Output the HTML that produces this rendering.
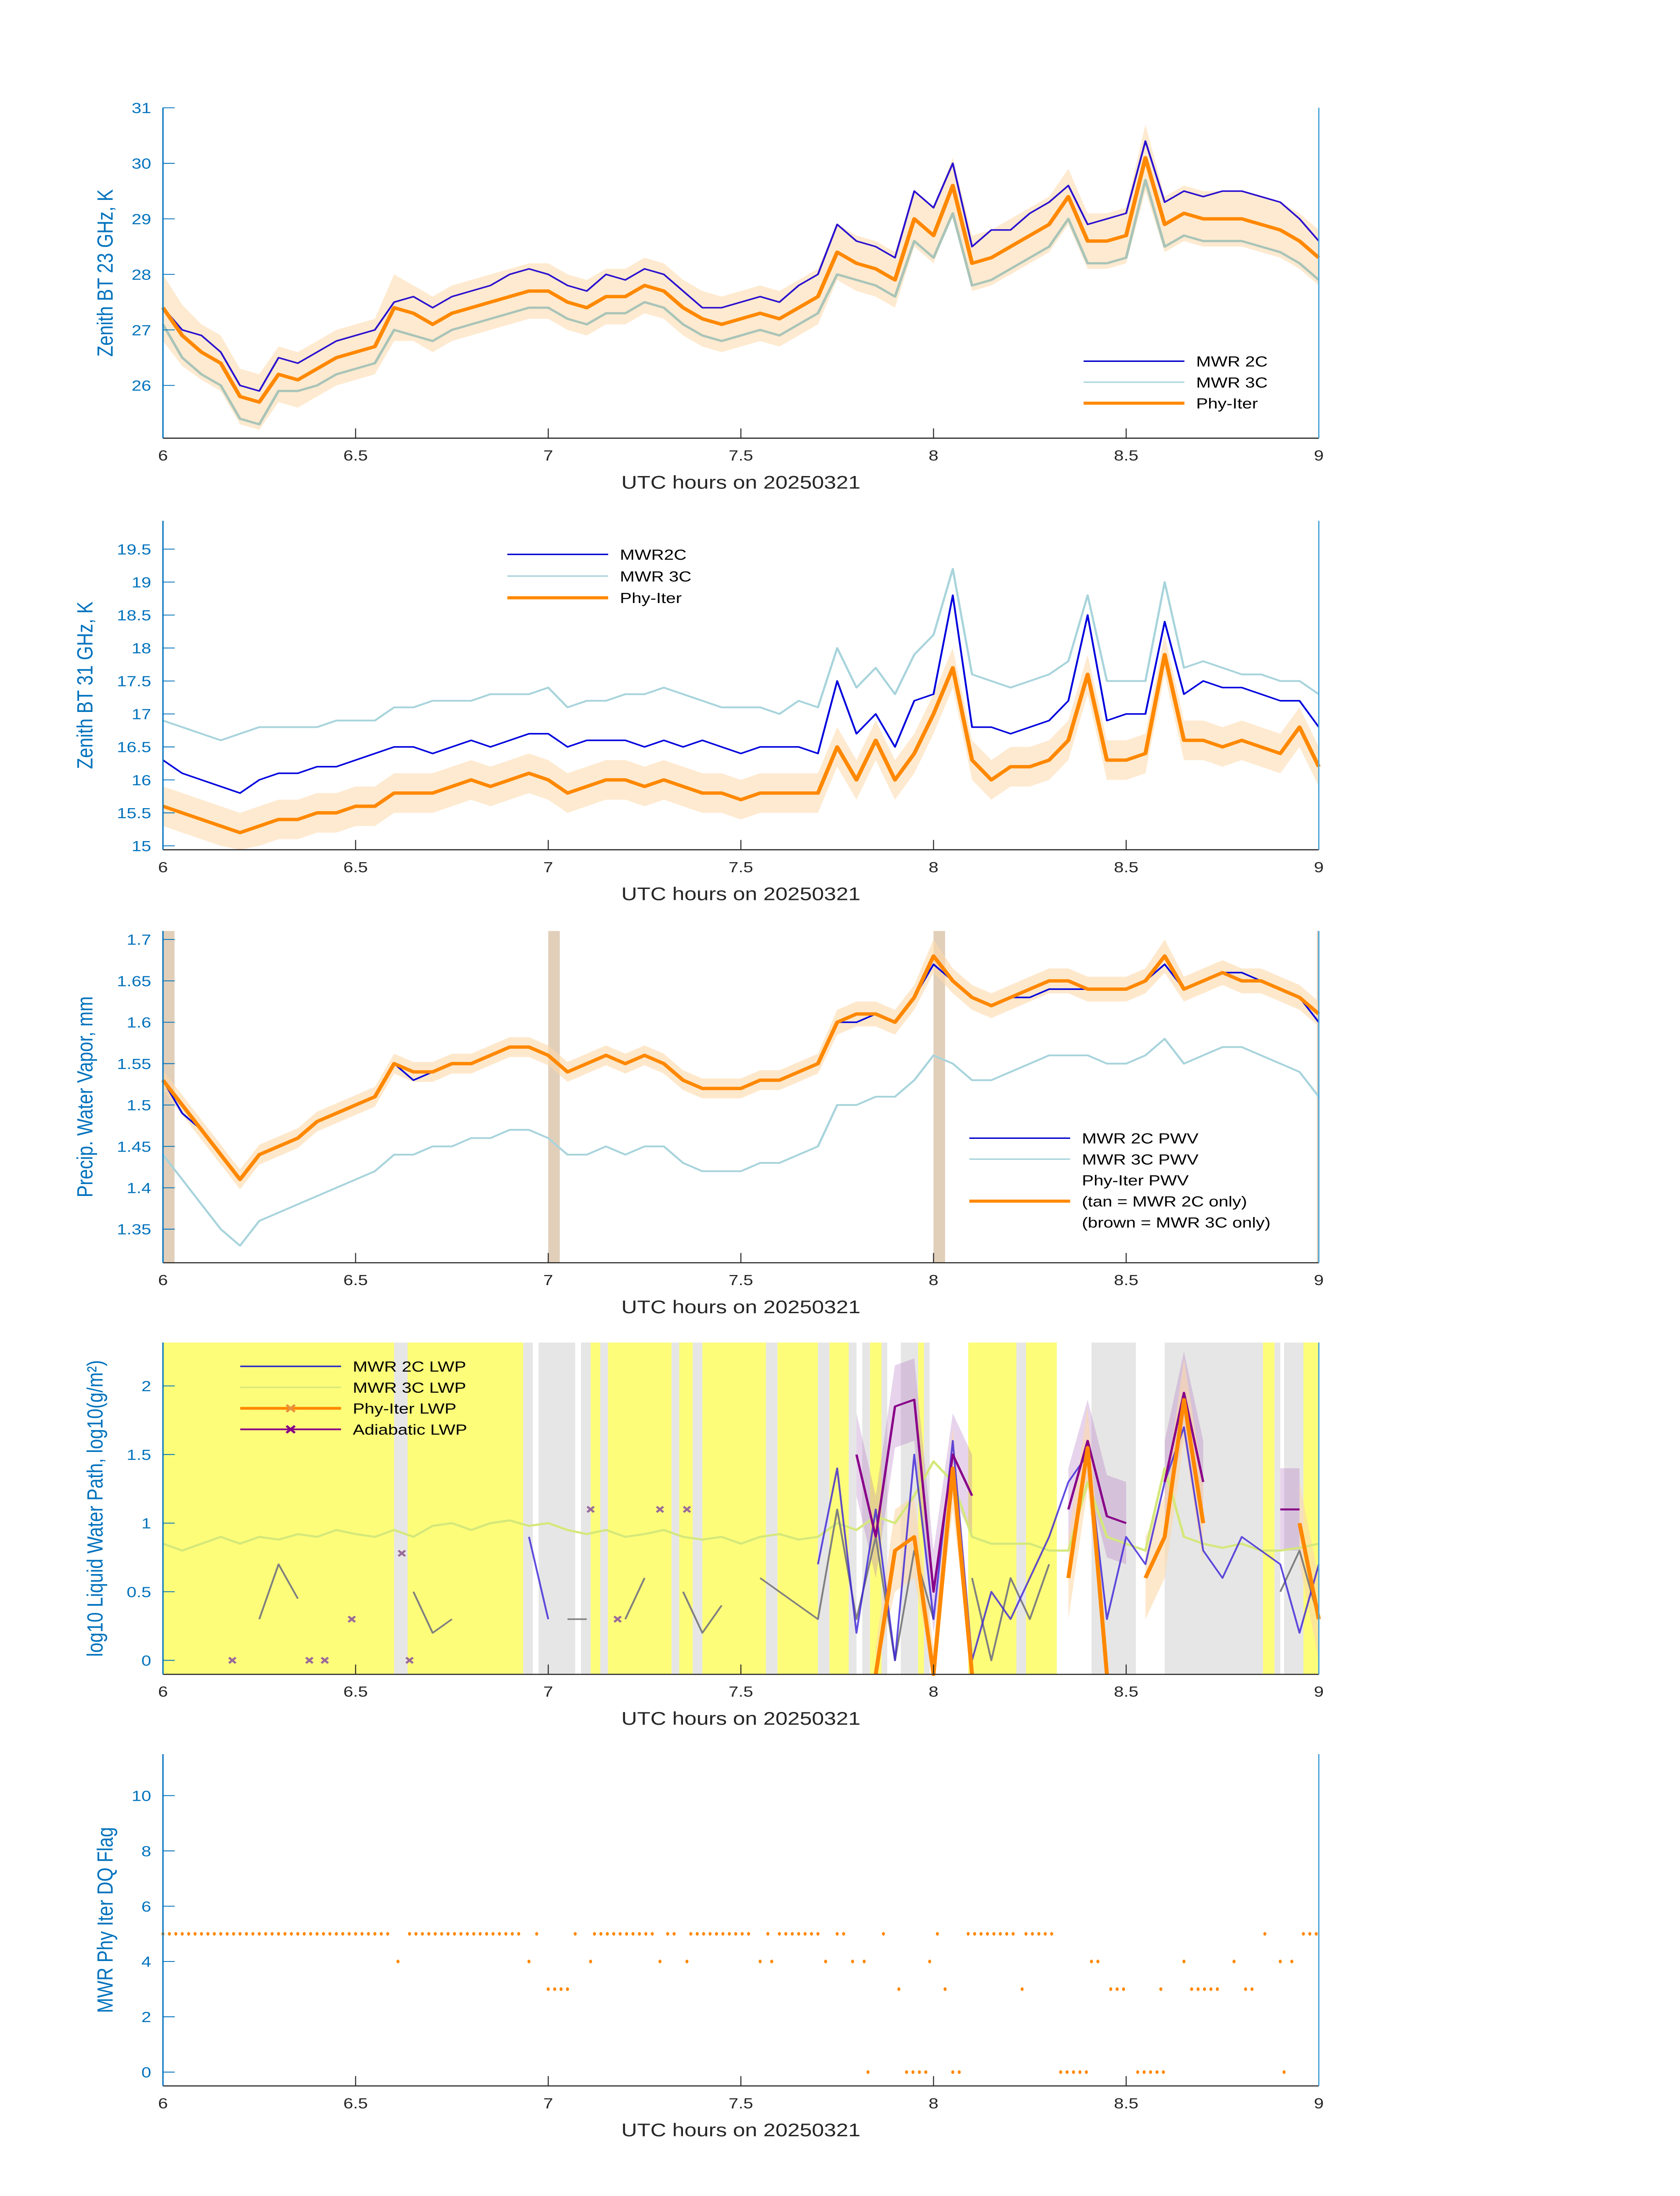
<!DOCTYPE html>
<html><head><meta charset="utf-8"><style>
html,body{margin:0;padding:0;background:#fff;width:100%;height:100%;overflow:hidden;}
svg{display:block;position:absolute;left:0;top:0;width:100vw;height:100vh;font-family:"Liberation Sans","DejaVu Sans",sans-serif;}
</style></head><body>
<svg id="fig" width="100%" height="100%" viewBox="0 0 1000 1568.63" preserveAspectRatio="none" xmlns="http://www.w3.org/2000/svg">
<rect width="1000" height="1568.63" fill="#fff"/>
</svg>
<script>
// ---------- data ----------
const t05 = [6.0,6.05,6.1,6.15,6.2,6.25,6.3,6.35,6.4,6.45,6.5,6.55,6.6,6.65,6.7,6.75,6.8,6.85,6.9,6.95,7.0,7.05,7.1,7.15,7.2,7.25,7.3,7.35,7.4,7.45,7.5,7.55,7.6,7.65,7.7,7.75,7.8,7.85,7.9,7.95,8.0,8.05,8.1,8.15,8.2,8.25,8.3,8.35,8.4,8.45,8.5,8.55,8.6,8.65,8.7,8.75,8.8,8.85,8.9,8.95,9.0];
const bt23_2c = [27.4,27.0,26.9,26.6,26.0,25.9,26.5,26.4,26.6,26.8,26.9,27.0,27.5,27.6,27.4,27.6,27.7,27.8,28.0,28.1,28.0,27.8,27.7,28.0,27.9,28.1,28.0,27.7,27.4,27.4,27.5,27.6,27.5,27.8,28.0,28.9,28.6,28.5,28.3,29.5,29.2,30.0,28.5,28.8,28.8,29.1,29.3,29.6,28.9,29.0,29.1,30.4,29.3,29.5,29.4,29.5,29.5,29.4,29.3,29.0,28.6];
const bt23_3c = [27.1,26.5,26.2,26.0,25.4,25.3,25.9,25.9,26.0,26.2,26.3,26.4,27.0,26.9,26.8,27.0,27.1,27.2,27.3,27.4,27.4,27.2,27.1,27.3,27.3,27.5,27.4,27.1,26.9,26.8,26.9,27.0,26.9,27.1,27.3,28.0,27.9,27.8,27.6,28.6,28.3,29.1,27.8,27.9,28.1,28.3,28.5,29.0,28.2,28.2,28.3,29.7,28.5,28.7,28.6,28.6,28.6,28.5,28.4,28.2,27.9];
const bt23_phy = [27.4,26.9,26.6,26.4,25.8,25.7,26.2,26.1,26.3,26.5,26.6,26.7,27.4,27.3,27.1,27.3,27.4,27.5,27.6,27.7,27.7,27.5,27.4,27.6,27.6,27.8,27.7,27.4,27.2,27.1,27.2,27.3,27.2,27.4,27.6,28.4,28.2,28.1,27.9,29.0,28.7,29.6,28.2,28.3,28.5,28.7,28.9,29.4,28.6,28.6,28.7,30.1,28.9,29.1,29.0,29.0,29.0,28.9,28.8,28.6,28.3];
const bt23_unc = [0.6,0.55,0.5,0.5,0.5,0.5,0.5,0.5,0.5,0.5,0.5,0.5,0.6,0.5,0.5,0.5,0.5,0.5,0.5,0.5,0.5,0.5,0.5,0.5,0.5,0.5,0.5,0.5,0.5,0.5,0.5,0.5,0.5,0.5,0.5,0.5,0.5,0.5,0.5,0.5,0.5,0.5,0.5,0.5,0.5,0.5,0.5,0.5,0.5,0.5,0.5,0.6,0.5,0.5,0.5,0.5,0.5,0.5,0.5,0.5,0.5];
const bt31_2c = [16.3,16.1,16.0,15.9,15.8,16.0,16.1,16.1,16.2,16.2,16.3,16.4,16.5,16.5,16.4,16.5,16.6,16.5,16.6,16.7,16.7,16.5,16.6,16.6,16.6,16.5,16.6,16.5,16.6,16.5,16.4,16.5,16.5,16.5,16.4,17.5,16.7,17.0,16.5,17.2,17.3,18.8,16.8,16.8,16.7,16.8,16.9,17.2,18.5,16.9,17.0,17.0,18.4,17.3,17.5,17.4,17.4,17.3,17.2,17.2,16.8];
const bt31_3c = [16.9,16.8,16.7,16.6,16.7,16.8,16.8,16.8,16.8,16.9,16.9,16.9,17.1,17.1,17.2,17.2,17.2,17.3,17.3,17.3,17.4,17.1,17.2,17.2,17.3,17.3,17.4,17.3,17.2,17.1,17.1,17.1,17.0,17.2,17.1,18.0,17.4,17.7,17.3,17.9,18.2,19.2,17.6,17.5,17.4,17.5,17.6,17.8,18.8,17.5,17.5,17.5,19.0,17.7,17.8,17.7,17.6,17.6,17.5,17.5,17.3];
const bt31_phy = [15.6,15.5,15.4,15.3,15.2,15.3,15.4,15.4,15.5,15.5,15.6,15.6,15.8,15.8,15.8,15.9,16.0,15.9,16.0,16.1,16.0,15.8,15.9,16.0,16.0,15.9,16.0,15.9,15.8,15.8,15.7,15.8,15.8,15.8,15.8,16.5,16.0,16.6,16.0,16.4,17.0,17.7,16.3,16.0,16.2,16.2,16.3,16.6,17.6,16.3,16.3,16.4,17.9,16.6,16.6,16.5,16.6,16.5,16.4,16.8,16.2];
const bt31_unc = [0.3,0.3,0.3,0.3,0.3,0.3,0.3,0.3,0.3,0.3,0.3,0.3,0.3,0.3,0.3,0.3,0.3,0.3,0.3,0.3,0.3,0.3,0.3,0.3,0.3,0.3,0.3,0.3,0.3,0.3,0.3,0.3,0.3,0.3,0.3,0.3,0.3,0.3,0.3,0.3,0.3,0.3,0.3,0.3,0.3,0.3,0.3,0.3,0.3,0.3,0.3,0.3,0.3,0.3,0.3,0.3,0.3,0.3,0.3,0.3,0.3];
const pwv_2c = [1.53,1.49,1.47,1.44,1.41,1.44,1.45,1.46,1.48,1.49,1.50,1.51,1.55,1.53,1.54,1.55,1.55,1.56,1.57,1.57,1.56,1.54,1.55,1.56,1.55,1.56,1.55,1.53,1.52,1.52,1.52,1.53,1.53,1.54,1.55,1.60,1.60,1.61,1.60,1.63,1.67,1.65,1.63,1.62,1.63,1.63,1.64,1.64,1.64,1.64,1.64,1.65,1.67,1.64,1.65,1.66,1.66,1.65,1.64,1.63,1.60];
const pwv_3c = [1.44,1.41,1.38,1.35,1.33,1.36,1.37,1.38,1.39,1.40,1.41,1.42,1.44,1.44,1.45,1.45,1.46,1.46,1.47,1.47,1.46,1.44,1.44,1.45,1.44,1.45,1.45,1.43,1.42,1.42,1.42,1.43,1.43,1.44,1.45,1.50,1.50,1.51,1.51,1.53,1.56,1.55,1.53,1.53,1.54,1.55,1.56,1.56,1.56,1.55,1.55,1.56,1.58,1.55,1.56,1.57,1.57,1.56,1.55,1.54,1.51];
const pwv_phy = [1.53,1.50,1.47,1.44,1.41,1.44,1.45,1.46,1.48,1.49,1.50,1.51,1.55,1.54,1.54,1.55,1.55,1.56,1.57,1.57,1.56,1.54,1.55,1.56,1.55,1.56,1.55,1.53,1.52,1.52,1.52,1.53,1.53,1.54,1.55,1.60,1.61,1.61,1.60,1.63,1.68,1.65,1.63,1.62,1.63,1.64,1.65,1.65,1.64,1.64,1.64,1.65,1.68,1.64,1.65,1.66,1.65,1.65,1.64,1.63,1.61];
const pwv_unc = [0.012,0.012,0.012,0.012,0.012,0.012,0.012,0.012,0.012,0.012,0.012,0.012,0.012,0.012,0.012,0.012,0.012,0.012,0.012,0.012,0.012,0.012,0.012,0.012,0.012,0.012,0.012,0.012,0.012,0.012,0.012,0.012,0.012,0.012,0.012,0.015,0.015,0.015,0.015,0.015,0.02,0.015,0.015,0.015,0.015,0.015,0.015,0.015,0.015,0.015,0.015,0.015,0.02,0.015,0.015,0.015,0.015,0.015,0.015,0.015,0.015];
const pwv_brownSpans = [[6.0,6.03],[7.0,7.03],[8.0,8.03],[8.995,9.0]];
const lwp_yellow = [[6.0,6.6],[6.635,6.935],[7.11,7.135],[7.155,7.32],[7.34,7.375],[7.4,7.565],[7.595,7.7],[7.73,7.78],[7.835,7.865],[7.96,7.975],[8.09,8.215],[8.24,8.32],[8.855,8.885],[8.96,9.0]];
const lwp_gray = [[6.6,6.635],[6.935,6.96],[6.975,7.07],[7.085,7.11],[7.135,7.155],[7.32,7.34],[7.375,7.4],[7.565,7.595],[7.7,7.73],[7.78,7.8],[7.815,7.835],[7.865,7.88],[7.915,7.96],[7.975,7.99],[8.215,8.24],[8.41,8.525],[8.6,8.855],[8.885,8.9],[8.91,8.96]];
const lwp_3c = [0.85,0.8,0.85,0.9,0.85,0.9,0.88,0.92,0.9,0.95,0.92,0.9,0.95,0.9,0.98,1.0,0.95,1.0,1.02,0.98,1.0,0.95,0.92,0.95,0.9,0.92,0.95,0.9,0.88,0.9,0.85,0.9,0.92,0.88,0.9,1.0,0.95,1.05,1.0,1.2,1.45,1.3,0.9,0.85,0.85,0.85,0.8,0.8,1.3,0.9,0.85,0.8,1.4,0.9,0.85,0.82,0.85,0.8,0.8,0.82,0.85];
const lwp_old = [null,null,null,null,null,0.3,0.7,0.45,null,0.6,null,0.3,null,0.5,0.2,0.3,null,0.3,null,0.6,null,0.3,0.3,null,0.3,0.6,null,0.5,0.2,0.4,null,0.6,0.5,0.4,0.3,1.1,0.3,0.9,0.0,0.8,0.3,null,0.6,0.0,0.6,0.3,0.7,null,null,0.5,null,null,null,null,null,null,null,null,0.5,0.8,0.3];
const lwp_2c = [null,null,null,null,null,null,null,null,null,null,null,null,null,null,null,null,null,null,null,0.9,0.3,null,null,null,null,null,null,null,null,null,null,null,null,null,0.7,1.4,0.2,1.1,0.0,1.5,0.3,1.6,0.0,0.5,0.3,0.6,0.9,1.3,1.5,0.3,0.9,0.7,1.3,1.7,0.8,0.6,0.9,0.8,0.7,0.2,0.7];
const lwp_phy = [null,null,null,null,null,null,null,null,null,null,null,null,null,null,null,null,null,null,null,-0.2,null,null,null,null,null,null,null,null,null,null,null,null,null,null,null,null,null,-0.2,0.8,0.9,-0.2,1.4,-0.2,null,null,null,null,0.6,1.55,-0.2,null,0.6,0.9,1.9,1.0,null,null,null,null,1.0,0.3];
const lwp_adb = [null,null,null,null,null,null,null,null,null,null,null,null,null,null,null,null,null,null,null,null,null,null,null,null,null,null,null,null,null,null,null,null,null,null,null,null,1.5,0.9,1.85,1.9,0.5,1.5,1.2,null,null,null,null,1.1,1.6,1.05,1.0,null,1.3,1.95,1.3,null,null,null,1.1,1.1,null];
const lwp_adbUnc = [0.3,0.3,0.3,0.3,0.3,0.3,0.3,0.3,0.3,0.3,0.3,0.3,0.3,0.3,0.3,0.3,0.3,0.3,0.3,0.3,0.3,0.3,0.3,0.3,0.3,0.3,0.3,0.3,0.3,0.3,0.3,0.3,0.3,0.3,0.3,0.3,0.3,0.3,0.3,0.3,0.3,0.3,0.3,0.3,0.3,0.3,0.3,0.3,0.3,0.3,0.3,0.3,0.3,0.3,0.3,0.3,0.3,0.3,0.3,0.3,0.3];
const lwp_markT = [6.18,6.38,6.42,6.49,6.62,6.64,7.11,7.18,7.29,7.36];
const lwp_markV = [0,0,0,0.3,0.78,0,1.1,0.3,1.1,1.1];
const dqRuns = [[6.0,6.59,5],[6.64,6.93,5],[6.97,6.97,5],[7.07,7.08,5],[7.12,7.27,5],[7.31,7.33,5],[7.37,7.52,5],[7.57,7.57,5],[7.60,7.70,5],[7.75,7.78,5],[7.87,7.88,5],[8.01,8.01,5],[8.09,8.21,5],[8.24,8.31,5],[8.86,8.87,5],[8.96,9.0,5],
[6.61,6.62,4],[6.95,6.96,4],[7.11,7.11,4],[7.29,7.29,4],[7.36,7.36,4],[7.55,7.56,4],[7.58,7.58,4],[7.72,7.73,4],[7.79,7.79,4],[7.82,7.83,4],[7.99,7.99,4],[8.41,8.43,4],[8.65,8.66,4],[8.78,8.79,4],[8.90,8.90,4],[8.93,8.94,4],
[7.0,7.06,3],[7.91,7.91,3],[8.03,8.03,3],[8.23,8.23,3],[8.46,8.50,3],[8.59,8.60,3],[8.67,8.75,3],[8.81,8.84,3],
[7.83,7.83,0],[7.93,7.98,0],[8.05,8.08,0],[8.33,8.40,0],[8.53,8.60,0],[8.91,8.91,0]];
const xTicks = [6,6.5,7,7.5,8,8.5,9];
const xTickLabels = ["6","6.5","7","7.5","8","8.5","9"];

// ---------- helpers ----------
const NS="http://www.w3.org/2000/svg", svg=document.getElementById('fig');
function mk(tag,attrs,parent){const e=document.createElementNS(NS,tag);for(const k in attrs)e.setAttribute(k,attrs[k]);(parent||svg).appendChild(e);return e;}
const X0=97,X1=785;
const xs=h=>X0+(h-6)/3*(X1-X0);
function panel(name,top,bot,ymin,ymax){
  const g=mk('g',{});
  
  
  return {g,top,bot,y:v=>bot-(v-ymin)/(ymax-ymin)*(bot-top),ymin,ymax};
}
function pathD(ts,vs,P,clip){let d='',pen=false;for(let i=0;i<ts.length;i++){const v=vs[i];if(v===null||v===undefined){pen=false;continue;}let yy=P.y(v);if(clip){yy=Math.max(P.top,Math.min(P.bot,yy));}d+=(pen?'L':'M')+xs(ts[i]).toFixed(2)+' '+yy.toFixed(2);pen=true;}return d;}
function band(P,ts,vs,unc,fill,op,name){const segs=[];let cur=null;for(let i=0;i<ts.length;i++){if(vs[i]===null){cur=null;continue;}if(!cur){cur=[];segs.push(cur);}cur.push(i);}
  segs.forEach(s=>{let d='';s.forEach((i,k)=>{d+=(k?'L':'M')+xs(ts[i]).toFixed(2)+' '+Math.max(P.top,Math.min(P.bot,P.y(vs[i]+unc[i]))).toFixed(2);});for(let k=s.length-1;k>=0;k--){const i=s[k];d+='L'+xs(ts[i]).toFixed(2)+' '+Math.max(P.top,Math.min(P.bot,P.y(vs[i]-unc[i]))).toFixed(2);}d+='Z';
  const e=mk('path',{d,fill,'fill-opacity':op,stroke:'none'},P.g);
  
  });}
function line(P,ts,vs,stroke,w,name,op,clip){const e=mk('path',{d:pathD(ts,vs,P,clip),fill:'none',stroke,'stroke-width':w,'stroke-linejoin':'round','stroke-opacity':op||1},P.g);
  
  return e;}
function axes(P,yticks,ylabels,ytitle,yTitleX){
  const g=P.g;
  const ax=mk('g',{},g);
  
  
  mk('line',{x1:X0,y1:P.bot,x2:X1,y2:P.bot,stroke:'#262626','stroke-width':0.8},ax);
  xTicks.forEach((t,i)=>{mk('line',{x1:xs(t),y1:P.bot,x2:xs(t),y2:P.bot-7,stroke:'#262626','stroke-width':0.6},ax);
    const tx=mk('text',{x:xs(t),y:P.bot+16,'font-size':10.5,'text-anchor':'middle',fill:'#262626'},ax);tx.textContent=xTickLabels[i];});
  const xl=mk('text',{x:(X0+X1)/2,y:P.bot+36,'font-size':13,'text-anchor':'middle',fill:'#262626'},g);
  xl.textContent='UTC hours on 20250321';
  
  
  const ay=mk('g',{},g);
  
  
  mk('line',{x1:X0,y1:P.top,x2:X0,y2:P.bot,stroke:'#0072BD','stroke-width':0.8},ay);
  mk('line',{x1:X1,y1:P.top,x2:X1,y2:P.bot,stroke:'#4DA6D8','stroke-width':0.8},ay);
  yticks.forEach((v,i)=>{const yy=P.y(v);mk('line',{x1:X0,y1:yy,x2:X0+7,y2:yy,stroke:'#0072BD','stroke-width':0.6},ay);
    const tx=mk('text',{x:X0-7,y:yy+3.8,'font-size':10.5,'text-anchor':'end',fill:'#0072BD'},ay);tx.textContent=ylabels[i];});
  const yt=mk('text',{x:yTitleX,y:(P.top+P.bot)/2,'font-size':13,'text-anchor':'middle',fill:'#0072BD',transform:`rotate(-90 ${yTitleX} ${(P.top+P.bot)/2})`},g);
  yt.textContent=ytitle;
  
  
}
function legend(P,x,y0,dy,items){const lg=mk('g',{},P.g);
  
  
  items.forEach((it,i)=>{const yy=y0+i*dy;const en=mk('g',{},lg);
    
    
    if(it.c){mk('line',{x1:x,y1:yy,x2:x+60,y2:yy,stroke:it.c,'stroke-width':it.w},en);
      if(it.m){const cx=x+30;mk('path',{d:`M${cx-2.5} ${yy-2.5}L${cx+2.5} ${yy+2.5}M${cx-2.5} ${yy+2.5}L${cx+2.5} ${yy-2.5}`,stroke:it.m,'stroke-width':1.5},en);}}
    const t=mk('text',{x:x+67,y:yy+3.8,'font-size':10.5,fill:'#000'},en);t.textContent=it.t;});}

{const P=panel('bt23-panel',77,313,25.05,31.0);
 band(P,t05,bt23_phy,bt23_unc,'#FDD9AA',0.55,'phy-iter-uncertainty-band');
 line(P,t05,bt23_3c,'#A9C4B8',1.6,'mwr-3c-line',1,true);
 line(P,t05,bt23_2c,'#2A10D0',1.1,'mwr-2c-line',1,true);
 line(P,t05,bt23_phy,'#FF8800',2.4,'phy-iter-line',1,true);
 axes(P,[26,27,28,29,30,31],['26','27','28','29','30','31'],'Zenith BT 23 GHz, K',67);
 legend(P,645,258,15,[{c:'#0000CC',w:1,t:'MWR 2C'},{c:'#A8D4DC',w:1,t:'MWR 3C'},{c:'#FF8800',w:2.2,t:'Phy-Iter'}]);}
{const P=panel('bt31-panel',372,607,14.94,19.93);
 band(P,t05,bt31_phy,bt31_unc,'#FDD9AA',0.55,'phy-iter-uncertainty-band');
 line(P,t05,bt31_3c,'#A8D4DC',1.3,'mwr-3c-line',1,true);
 line(P,t05,bt31_2c,'#0000DD',1.1,'mwr-2c-line',1,true);
 line(P,t05,bt31_phy,'#FF8800',2.4,'phy-iter-line',1,true);
 axes(P,[15,15.5,16,16.5,17,17.5,18,18.5,19,19.5],['15','15.5','16','16.5','17','17.5','18','18.5','19','19.5'],'Zenith BT 31 GHz, K',55);
 legend(P,302,396,15.5,[{c:'#0000CC',w:1,t:'MWR2C'},{c:'#A8D4DC',w:1,t:'MWR 3C'},{c:'#FF8800',w:2.2,t:'Phy-Iter'}]);}
{const P=panel('pwv-panel',665,902,1.3094,1.7103);
 pwv_brownSpans.forEach(s=>{const r=mk('rect',{x:xs(s[0]),y:P.top,width:Math.max(1,xs(s[1])-xs(s[0])),height:P.bot-P.top,fill:'#C8A882','fill-opacity':0.55},P.g);
   
   });
 band(P,t05,pwv_phy,pwv_unc,'#FDD9AA',0.6,'phy-iter-uncertainty-band');
 line(P,t05,pwv_3c,'#A8D4DC',1.3,'mwr-3c-pwv-line',1,true);
 line(P,t05,pwv_2c,'#0000DD',1.1,'mwr-2c-pwv-line',1,true);
 line(P,t05,pwv_phy,'#FF8800',2.4,'phy-iter-pwv-line',1,true);
 axes(P,[1.35,1.4,1.45,1.5,1.55,1.6,1.65,1.7],['1.35','1.4','1.45','1.5','1.55','1.6','1.65','1.7'],'Precip. Water Vapor, mm',55);
 legend(P,577,813,15,[{c:'#0000CC',w:1,t:'MWR 2C PWV'},{c:'#A8D4DC',w:1,t:'MWR 3C PWV'},{t:'Phy-Iter PWV'},{c:'#FF8800',w:2.2,t:'(tan = MWR 2C only)'},{t:'(brown = MWR 3C only)'}]);}
{const P=panel('lwp-panel',959,1196,-0.102,2.316);
 lwp_yellow.forEach(s=>{const r=mk('rect',{x:xs(s[0]),y:P.top,width:xs(s[1])-xs(s[0]),height:P.bot-P.top,fill:'#FDFD7A'},P.g);
   
   });
 lwp_gray.forEach(s=>{const r=mk('rect',{x:xs(s[0]),y:P.top,width:xs(s[1])-xs(s[0]),height:P.bot-P.top,fill:'#E6E6E6'},P.g);
   
   });
 band(P,t05,lwp_adb,lwp_adbUnc,'#B070C0',0.3,'adiabatic-uncertainty-band');
 band(P,t05,lwp_phy,lwp_adbUnc,'#FDD9AA',0.6,'phy-iter-uncertainty-band');
 line(P,t05,lwp_3c,'#D4E87A',1.5,'mwr-3c-lwp-line',1,true);
 line(P,t05,lwp_old,'#808080',1.1,'mwr-2c-raw-lwp-line',1,true);
 line(P,t05,lwp_2c,'#3A20D8',1.1,'mwr-2c-lwp-line',0.8,true);
 line(P,t05,lwp_adb,'#880088',1.4,'adiabatic-lwp-line',1,true);
 line(P,t05,lwp_phy,'#FF8800',2.4,'phy-iter-lwp-line',1,true);
 lwp_markT.forEach((t,i)=>{const cx=xs(t),cy=P.y(lwp_markV[i]);const m=mk('path',{d:`M${cx-2} ${cy-2}L${cx+2} ${cy+2}M${cx-2} ${cy+2}L${cx+2} ${cy-2}`,stroke:'#9A6A9A','stroke-width':1.4},P.g);
   
   });
 axes(P,[0,0.5,1,1.5,2],['0','0.5','1','1.5','2'],'log10 Liquid Water Path, log10(g/m²)',61);
 legend(P,143,976,15,[{c:'#2020D0',w:1,t:'MWR 2C LWP'},{c:'#D4E87A',w:1,t:'MWR 3C LWP'},{c:'#FF8800',w:2,t:'Phy-Iter LWP',m:'#E89040'},{c:'#880088',w:1.2,t:'Adiabatic LWP',m:'#880088'}]);}
{const P=panel('dq-flag-panel',1253,1490,-0.5,11.5);
 dqRuns.forEach(r=>{for(let t=r[0];t<=r[1]+1e-6;t+=1/60){const e=mk('ellipse',{cx:xs(t),cy:P.y(r[2]),rx:0.9,ry:1.3,fill:'#FF8800'},P.g);
   
   }});
 axes(P,[0,2,4,6,8,10],['0','2','4','6','8','10'],'MWR Phy Iter DQ Flag',67);}
</script>
</body></html>
